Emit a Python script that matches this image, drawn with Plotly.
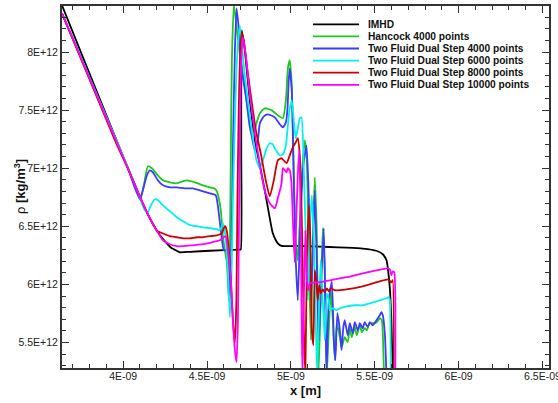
import numpy as np
import plotly.graph_objects as go

# ---- data: x stored in units of 1e-9 m, rho stored in units of 1e12 kg/m^3 ----
imhd_x = [3.635, 4.100, 4.171, 4.219, 4.260, 4.290, 4.314, 4.338, 4.398, 4.517, 4.695, 4.701, 4.704, 4.707,
          4.725, 4.755, 4.785, 4.815, 4.844, 4.874, 4.892, 4.910, 4.922, 4.944, 5.033, 5.232, 5.331, 5.428,
          5.510, 5.548, 5.570, 5.578, 5.590, 5.599, 5.607, 5.613]
imhd_y = [8.402, 6.750, 6.535, 6.423, 6.354, 6.311, 6.294, 6.277, 6.281, 6.290, 6.300, 6.300, 7.154, 8.187,
          8.015, 7.584, 7.240, 7.025, 6.810, 6.570, 6.440, 6.380, 6.354, 6.331, 6.331, 6.322, 6.317, 6.309,
          6.290, 6.260, 6.208, 6.139, 5.967, 5.692, 5.288, 5.176]

hancock_x = [3.635, 3.933, 4.040, 4.082, 4.105, 4.123, 4.147, 4.171, 4.201, 4.237, 4.278, 4.320, 4.356, 4.380,
             4.427, 4.475, 4.517, 4.541, 4.558, 4.570, 4.582, 4.594, 4.606, 4.618, 4.630, 4.636, 4.642, 4.648,
             4.660, 4.678, 4.701, 4.725, 4.755, 4.773, 4.791, 4.815, 4.844, 4.886, 4.922, 4.952, 4.970, 4.982,
             4.993, 5.005, 5.017, 5.029, 5.041, 5.053, 5.071, 5.083, 5.095, 5.107, 5.119, 5.131, 5.142, 5.154,
             5.166, 5.178, 5.190, 5.202, 5.214, 5.226, 5.238, 5.250, 5.262, 5.274, 5.292, 5.303, 5.321, 5.339,
             5.351, 5.363, 5.381, 5.393, 5.411, 5.423, 5.440, 5.452, 5.470, 5.488, 5.512, 5.530, 5.542, 5.548,
             5.555]
hancock_y = [8.333, 7.326, 6.965, 6.810, 6.750, 6.853, 7.017, 7.000, 6.948, 6.896, 6.879, 6.870, 6.888, 6.896,
             6.879, 6.853, 6.836, 6.827, 6.802, 6.741, 6.638, 6.423, 6.294, 6.191, 5.864, 6.294, 7.154, 7.929,
             8.410, 8.187, 7.929, 7.714, 7.352, 7.266, 7.369, 7.473, 7.516, 7.498, 7.455, 7.430, 7.584, 7.860,
             7.929, 7.714, 6.982, 6.380, 6.208, 6.552, 7.068, 7.240, 7.068, 6.208, 5.520, 6.380, 6.922, 6.466,
             5.262, 5.864, 6.484, 6.122, 5.219, 5.606, 5.950, 5.692, 5.348, 5.666, 5.546, 5.460, 5.546, 5.503,
             5.623, 5.546, 5.632, 5.563, 5.649, 5.589, 5.623, 5.606, 5.666, 5.666, 5.675, 5.709, 5.692, 5.580,
             5.219]

tf4000_x = [3.635, 3.933, 4.028, 4.064, 4.088, 4.100, 4.117, 4.141, 4.159, 4.177, 4.207, 4.237, 4.278, 4.320,
            4.368, 4.415, 4.457, 4.517, 4.552, 4.564, 4.582, 4.600, 4.618, 4.630, 4.636, 4.645, 4.654, 4.666,
            4.676, 4.690, 4.707, 4.735, 4.755, 4.785, 4.803, 4.815, 4.838, 4.862, 4.904, 4.934, 4.952, 4.970,
            4.979, 4.987, 4.993, 5.005, 5.017, 5.029, 5.041, 5.053, 5.071, 5.093, 5.107, 5.119, 5.131, 5.142,
            5.154, 5.166, 5.178, 5.196, 5.205, 5.212, 5.226, 5.244, 5.256, 5.265, 5.277, 5.292, 5.302, 5.312,
            5.321, 5.339, 5.351, 5.369, 5.381, 5.399, 5.411, 5.428, 5.440, 5.458, 5.470, 5.488, 5.510, 5.530,
            5.540, 5.548, 5.560, 5.570]
tf4000_y = [8.333, 7.326, 7.000, 6.853, 6.767, 6.733, 6.810, 6.939, 6.982, 6.965, 6.896, 6.853, 6.836, 6.836,
            6.827, 6.827, 6.810, 6.784, 6.767, 6.681, 6.466, 6.294, 6.294, 6.122, 5.907, 6.294, 7.154, 8.015,
            8.376, 8.187, 7.843, 7.584, 7.369, 7.154, 7.240, 7.387, 7.447, 7.464, 7.438, 7.378, 7.352, 7.395,
            7.498, 7.757, 7.860, 7.671, 6.896, 6.208, 5.864, 6.380, 6.982, 7.197, 6.724, 5.864, 6.294, 6.810,
            6.208, 5.520, 5.950, 6.484, 5.864, 5.219, 5.864, 6.027, 5.520, 5.348, 5.752, 5.606, 5.434, 5.623,
            5.692, 5.563, 5.666, 5.580, 5.675, 5.606, 5.666, 5.623, 5.675, 5.632, 5.675, 5.649, 5.692, 5.735,
            5.761, 5.735, 5.580, 5.219]

tf6000_x = [3.635, 3.933, 4.040, 4.088, 4.111, 4.129, 4.147, 4.165, 4.189, 4.207, 4.237, 4.278, 4.320, 4.356,
            4.398, 4.439, 4.475, 4.517, 4.558, 4.576, 4.588, 4.594, 4.603, 4.612, 4.624, 4.636, 4.645, 4.654,
            4.666, 4.678, 4.695, 4.707, 4.725, 4.743, 4.767, 4.795, 4.815, 4.833, 4.856, 4.874, 4.892, 4.904,
            4.934, 4.952, 4.970, 4.982, 4.993, 5.005, 5.017, 5.029, 5.041, 5.053, 5.063, 5.077, 5.089, 5.101,
            5.113, 5.125, 5.137, 5.148, 5.157, 5.169, 5.178, 5.190, 5.202, 5.214, 5.226, 5.232, 5.250, 5.272,
            5.292, 5.331, 5.381, 5.428, 5.470, 5.530, 5.570, 5.584, 5.590, 5.595]
tf6000_y = [8.333, 7.326, 6.965, 6.793, 6.698, 6.638, 6.621, 6.681, 6.733, 6.724, 6.681, 6.630, 6.578, 6.544,
            6.510, 6.501, 6.492, 6.484, 6.475, 6.466, 6.501, 6.527, 6.484, 6.380, 6.122, 5.718, 6.036, 6.724,
            7.412, 7.929, 8.230, 8.058, 7.800, 7.584, 7.326, 7.068, 7.000, 7.068, 7.172, 7.215, 7.206, 7.172,
            7.111, 7.120, 7.197, 7.369, 7.516, 7.584, 7.412, 7.258, 7.344, 7.430, 7.438, 6.982, 6.380, 5.864,
            6.466, 6.767, 6.380, 5.692, 5.219, 5.864, 6.208, 5.864, 5.520, 5.924, 5.864, 5.778, 5.795, 5.778,
            5.795, 5.812, 5.821, 5.821, 5.838, 5.864, 5.881, 5.890, 5.864, 5.219]

tf8000_x = [3.635, 3.951, 4.040, 4.117, 4.159, 4.199, 4.219, 4.249, 4.278, 4.320, 4.362, 4.398, 4.439, 4.475,
            4.517, 4.558, 4.588, 4.600, 4.609, 4.618, 4.630, 4.642, 4.654, 4.666, 4.675, 4.681, 4.690, 4.698,
            4.706, 4.719, 4.737, 4.765, 4.791, 4.825, 4.850, 4.874, 4.898, 4.922, 4.944, 4.974, 4.993, 5.011,
            5.029, 5.041, 5.053, 5.065, 5.077, 5.086, 5.095, 5.107, 5.116, 5.125, 5.134, 5.142, 5.151, 5.160,
            5.169, 5.178, 5.190, 5.202, 5.214, 5.226, 5.238, 5.262, 5.331, 5.428, 5.530, 5.578, 5.599, 5.607,
            5.613]
tf8000_y = [8.333, 7.240, 6.957, 6.698, 6.570, 6.466, 6.449, 6.432, 6.415, 6.406, 6.397, 6.397, 6.406, 6.406,
            6.415, 6.423, 6.440, 6.484, 6.501, 6.458, 6.294, 6.036, 5.692, 5.494, 5.864, 6.724, 7.584, 8.015,
            8.169, 8.101, 7.886, 7.584, 7.326, 7.094, 6.896, 6.759, 6.896, 7.068, 7.086, 7.043, 7.111, 7.180,
            7.223, 7.258, 7.111, 6.552, 5.606, 5.219, 6.208, 6.681, 6.380, 5.606, 5.477, 6.122, 6.036, 5.864,
            5.993, 5.924, 5.958, 5.933, 5.967, 5.941, 5.967, 5.950, 5.958, 5.984, 6.027, 6.044, 6.019, 6.036,
            5.219]

tf10000_x = [3.635, 4.040, 4.117, 4.159, 4.199, 4.237, 4.278, 4.320, 4.356, 4.415, 4.475, 4.529, 4.576, 4.600,
             4.612, 4.624, 4.642, 4.654, 4.666, 4.676, 4.684, 4.690, 4.695, 4.704, 4.713, 4.731, 4.755, 4.785,
             4.815, 4.844, 4.874, 4.904, 4.922, 4.944, 4.952, 4.964, 4.974, 4.982, 4.993, 5.003, 5.014, 5.023,
             5.032, 5.041, 5.050, 5.059, 5.068, 5.077, 5.086, 5.095, 5.104, 5.113, 5.172, 5.232, 5.331, 5.428,
             5.510, 5.578, 5.590, 5.599, 5.607, 5.616, 5.622]
tf10000_y = [8.333, 6.957, 6.698, 6.570, 6.466, 6.380, 6.346, 6.329, 6.329, 6.337, 6.346, 6.363, 6.380, 6.406,
             6.415, 6.294, 6.036, 5.692, 5.434, 5.331, 5.692, 6.466, 7.326, 7.929, 8.126, 7.972, 7.628, 7.301,
             7.025, 6.810, 6.698, 6.655, 6.741, 6.870, 7.000, 6.982, 6.965, 7.000, 6.982, 6.879, 6.466, 6.191,
             6.552, 6.939, 7.154, 6.466, 5.219, 5.864, 6.466, 6.036, 5.950, 6.010, 6.019, 6.036, 6.062, 6.096,
             6.122, 6.139, 6.131, 6.079, 6.113, 6.105, 5.219]

series_names = ["IMHD", "Hancock 4000 points", "Two Fluid Dual Step 4000 points",
                "Two Fluid Dual Step 6000 points", "Two Fluid Dual Step 8000 points",
                "Two Fluid Dual Step 10000 points"]
series_x = [imhd_x, hancock_x, tf4000_x, tf6000_x, tf8000_x, tf10000_x]
series_y = [imhd_y, hancock_y, tf4000_y, tf6000_y, tf8000_y, tf10000_y]
series_colors = ["#000000", "#1ec81e", "#3c3cff", "#00f0f0", "#cc0000", "#ff00ff"]

x_tick_vals = [4.0, 4.5, 5.0, 5.5, 6.0, 6.5]
x_tick_text = ["4E-09", "4.5E-09", "5E-09", "5.5E-09", "6E-09", "6.5E-09"]
y_tick_vals = [5.5, 6.0, 6.5, 7.0, 7.5, 8.0]
y_tick_text = ["5.5E+12", "6E+12", "6.5E+12", "7E+12", "7.5E+12", "8E+12"]

# ---- figure geometry ----
W, H = 558, 403
ML, MR, MT, MB = 62, 9, 6, 35
PW, PH = W - ML - MR, H - MT - MB

def px_to_paper(px, py):
    return (px - ML) / PW, (H - MB - py) / PH

FONT = "Liberation Sans, Arial, sans-serif"
FRAME = "#333333"

fig = go.Figure()
for name, xs, ys, col in zip(series_names, series_x, series_y, series_colors):
    fig.add_trace(go.Scatter(
        x=np.array(xs) * 1e-9, y=np.array(ys) * 1e12, name=name, mode="lines",
        line=dict(color=col, width=1.8, shape="spline", smoothing=0.5),
        showlegend=False))

axis_common = dict(
    showline=True, linecolor=FRAME, linewidth=2, mirror="ticks",
    ticks="inside", ticklen=7, tickwidth=1, tickcolor=FRAME,
    showgrid=False, zeroline=False, ticklabeloverflow="allow", automargin=False,
    tickfont=dict(family=FONT, size=10.5, color="#222222"),
)

fig.update_xaxes(
    range=[3.635e-9, 6.539e-9], tickmode="array",
    tickvals=[v * 1e-9 for v in x_tick_vals], ticktext=x_tick_text,
    ticklabelstandoff=-3,
    minor=dict(ticks="inside", ticklen=4, tickwidth=1, tickcolor=FRAME,
               tickmode="array", tickvals=list(np.round(np.arange(3.7, 6.55, 0.1), 2) * 1e-9)),
    **axis_common)
fig.update_yaxes(
    range=[5.281e12, 8.396e12], tickmode="array",
    tickvals=[v * 1e12 for v in y_tick_vals], ticktext=y_tick_text,
    minor=dict(ticks="inside", ticklen=4, tickwidth=1, tickcolor=FRAME,
               tickmode="array", tickvals=list(np.round(np.arange(5.3, 8.35, 0.1), 2) * 1e12)),
    **axis_common)

# ---- legend drawn as line samples plus labels ----
shapes, annotations = [], []
row0, row_step = 24.3, 12.1
for i, (name, col) in enumerate(zip(series_names, series_colors)):
    py = row0 + i * row_step
    x0, y0 = px_to_paper(313, py)
    x1, _ = px_to_paper(359, py)
    shapes.append(dict(type="line", xref="paper", yref="paper", x0=x0, x1=x1, y0=y0, y1=y0,
                       line=dict(color=col, width=1.8)))
    tx, _ = px_to_paper(366, py)
    annotations.append(dict(xref="paper", yref="paper", x=tx, y=y0, xanchor="left", yanchor="middle",
                            text=f"<b>{name}</b>", showarrow=False,
                            font=dict(family=FONT, size=10.2, color="#111111")))

# ---- axis titles ----
xt, yt = px_to_paper(ML + PW / 2, 390.5)
annotations.append(dict(xref="paper", yref="paper", x=xt, y=yt, xanchor="center", yanchor="middle",
                        text="<b>x [m]</b>", showarrow=False,
                        font=dict(family=FONT, size=13, color="#111111")))
xt, yt = px_to_paper(20, MT + PH / 2)
annotations.append(dict(xref="paper", yref="paper", x=xt, y=yt, xanchor="center", yanchor="middle",
                        text="ρ <b>[kg/m<sup>3</sup>]</b>", textangle=-90, showarrow=False,
                        font=dict(family=FONT, size=13, color="#111111")))

fig.update_layout(
    width=W, height=H, margin=dict(l=ML, r=MR, t=MT, b=MB, autoexpand=False),
    paper_bgcolor="white", plot_bgcolor="white",
    shapes=shapes, annotations=annotations, showlegend=False,
)

fig.write_html("out.html")
